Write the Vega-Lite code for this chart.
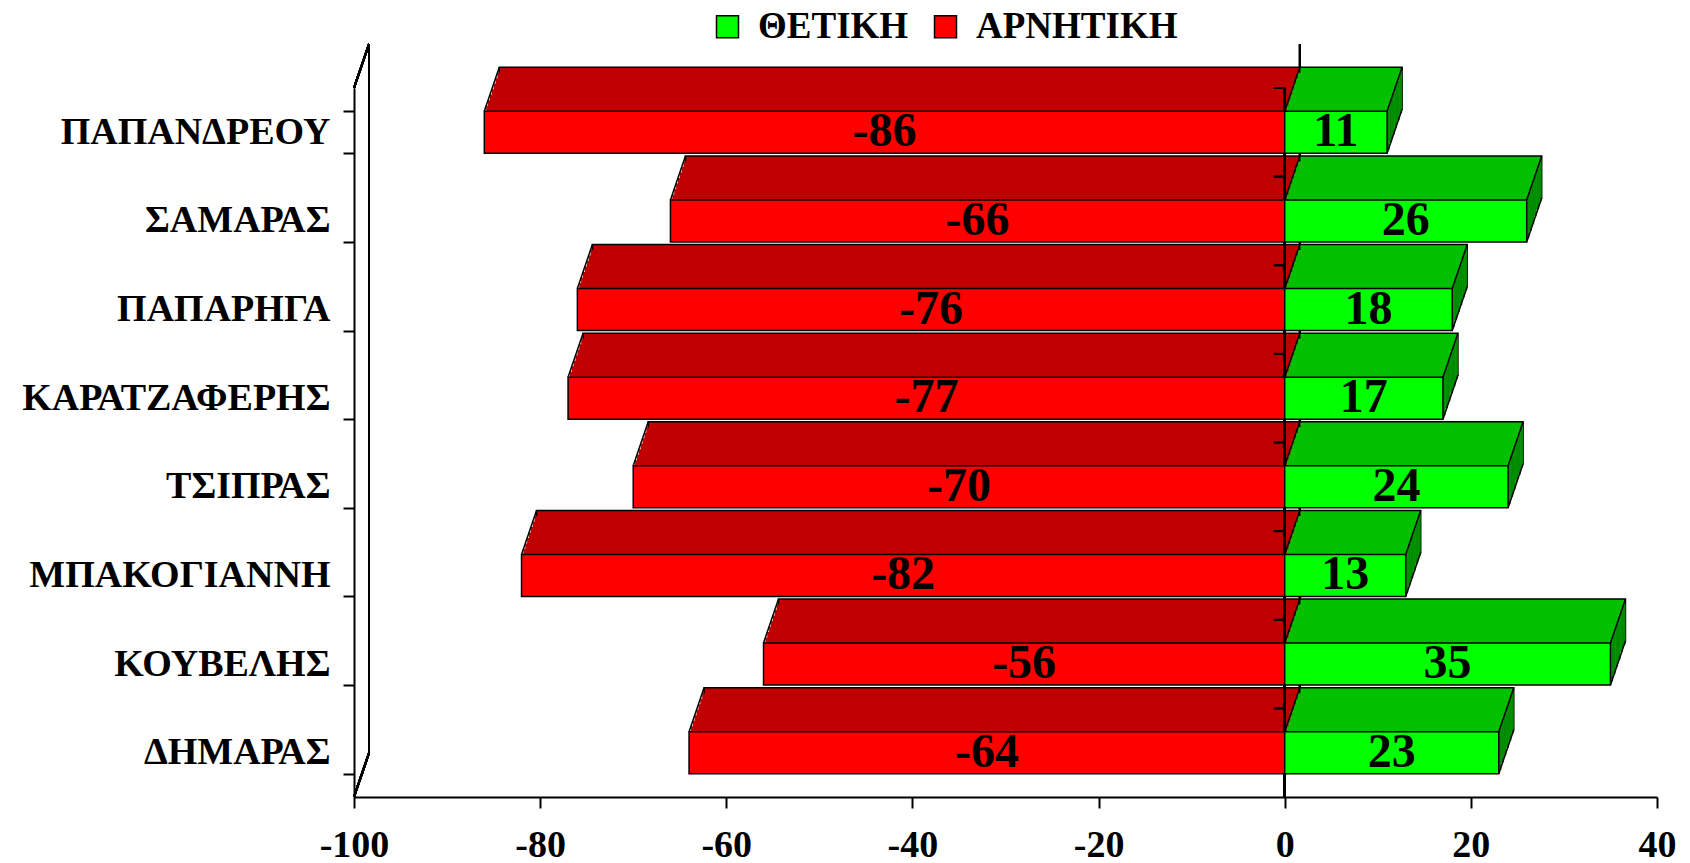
{
  "$schema": "https://vega.github.io/schema/vega-lite/v6.json",
  "width": 1303,
  "height": 709,
  "autosize": {"type": "none"},
  "padding": {"left": 354, "top": 88, "right": 33, "bottom": 66},
  "background": "white",
  "config": {
    "view": {"stroke": null},
    "font": "Liberation Serif"
  },
  "data": {
    "values": [
      {"name": "ΠΑΠΑΝΔΡΕΟΥ", "series": "ΑΡΝΗΤΙΚΗ", "value": -86},
      {"name": "ΠΑΠΑΝΔΡΕΟΥ", "series": "ΘΕΤΙΚΗ", "value": 11},
      {"name": "ΣΑΜΑΡΑΣ", "series": "ΑΡΝΗΤΙΚΗ", "value": -66},
      {"name": "ΣΑΜΑΡΑΣ", "series": "ΘΕΤΙΚΗ", "value": 26},
      {"name": "ΠΑΠΑΡΗΓΑ", "series": "ΑΡΝΗΤΙΚΗ", "value": -76},
      {"name": "ΠΑΠΑΡΗΓΑ", "series": "ΘΕΤΙΚΗ", "value": 18},
      {"name": "ΚΑΡΑΤΖΑΦΕΡΗΣ", "series": "ΑΡΝΗΤΙΚΗ", "value": -77},
      {"name": "ΚΑΡΑΤΖΑΦΕΡΗΣ", "series": "ΘΕΤΙΚΗ", "value": 17},
      {"name": "ΤΣΙΠΡΑΣ", "series": "ΑΡΝΗΤΙΚΗ", "value": -70},
      {"name": "ΤΣΙΠΡΑΣ", "series": "ΘΕΤΙΚΗ", "value": 24},
      {"name": "ΜΠΑΚΟΓΙΑΝΝΗ", "series": "ΑΡΝΗΤΙΚΗ", "value": -82},
      {"name": "ΜΠΑΚΟΓΙΑΝΝΗ", "series": "ΘΕΤΙΚΗ", "value": 13},
      {"name": "ΚΟΥΒΕΛΗΣ", "series": "ΑΡΝΗΤΙΚΗ", "value": -56},
      {"name": "ΚΟΥΒΕΛΗΣ", "series": "ΘΕΤΙΚΗ", "value": 35},
      {"name": "ΔΗΜΑΡΑΣ", "series": "ΑΡΝΗΤΙΚΗ", "value": -64},
      {"name": "ΔΗΜΑΡΑΣ", "series": "ΘΕΤΙΚΗ", "value": 23}
    ]
  },
  "resolve": {"scale": {"x": "independent", "y": "independent"}},
  "layer": [
    {
      "layer": [
        {
          "mark": {"type": "rule", "color": "black", "strokeWidth": 1.5, "xOffset": 15, "yOffset": -88.3, "y2Offset": 0.3},
          "encoding": {
            "x": {"datum": 0, "type": "quantitative", "title": null},
            "y": {"datum": "ΠΑΠΑΝΔΡΕΟΥ", "type": "nominal", "title": null},
            "y2": {"datum": "ΔΗΜΑΡΑΣ"}
          }
        },
        {
          "mark": {"type": "rule", "color": "black", "strokeWidth": 2, "xOffset": 15, "yOffset": -88.3, "y2Offset": 0.3},
          "encoding": {
            "x": {"datum": -100, "type": "quantitative", "title": null},
            "y": {"datum": "ΠΑΠΑΝΔΡΕΟΥ", "type": "nominal", "title": null},
            "y2": {"datum": "ΔΗΜΑΡΑΣ"}
          }
        },
        {
          "mark": {"type": "rule", "color": "black", "strokeWidth": 2, "x2Offset": 15, "yOffset": -44.3, "y2Offset": -88.3},
          "encoding": {
            "x": {"datum": -100, "type": "quantitative", "title": null},
            "x2": {"datum": -100},
            "y": {"datum": "ΠΑΠΑΝΔΡΕΟΥ", "type": "nominal", "title": null},
            "y2": {"datum": "ΠΑΠΑΝΔΡΕΟΥ"}
          }
        },
        {
          "mark": {"type": "rule", "color": "black", "strokeWidth": 2, "x2Offset": 15, "yOffset": 44.3, "y2Offset": 0.3},
          "encoding": {
            "x": {"datum": -100, "type": "quantitative", "title": null},
            "x2": {"datum": -100},
            "y": {"datum": "ΔΗΜΑΡΑΣ", "type": "nominal", "title": null},
            "y2": {"datum": "ΔΗΜΑΡΑΣ"}
          }
        },
        {
          "mark": {"type": "bar", "stroke": "black", "strokeWidth": 1.5, "xOffset": 15, "x2Offset": 15, "yOffset": -44, "y2Offset": -44},
          "encoding": {
            "x": {"field": "value", "type": "quantitative", "title": null},
            "x2": {"datum": 0},
            "y": {"field": "name", "type": "nominal", "title": null},
            "fill": {"condition": {"test": "datum.value > 0", "value": "#00c000"}, "value": "#c00000"}
          }
        },
        {
          "mark": {"type": "bar", "xOffset": 13.125, "x2Offset": 13.125, "yOffset": -38.5, "y2Offset": -38.5},
          "encoding": {
            "x": {"field": "value", "type": "quantitative", "title": null},
            "x2": {"datum": 0},
            "y": {"field": "name", "type": "nominal", "title": null},
            "fill": {"condition": {"test": "datum.value > 0", "value": "#00c000"}, "value": "#c00000"}
          }
        },
        {
          "mark": {"type": "bar", "xOffset": 11.25, "x2Offset": 11.25, "yOffset": -33, "y2Offset": -33},
          "encoding": {
            "x": {"field": "value", "type": "quantitative", "title": null},
            "x2": {"datum": 0},
            "y": {"field": "name", "type": "nominal", "title": null},
            "fill": {"condition": {"test": "datum.value > 0", "value": "#00c000"}, "value": "#c00000"}
          }
        },
        {
          "mark": {"type": "bar", "xOffset": 9.375, "x2Offset": 9.375, "yOffset": -27.5, "y2Offset": -27.5},
          "encoding": {
            "x": {"field": "value", "type": "quantitative", "title": null},
            "x2": {"datum": 0},
            "y": {"field": "name", "type": "nominal", "title": null},
            "fill": {"condition": {"test": "datum.value > 0", "value": "#00c000"}, "value": "#c00000"}
          }
        },
        {
          "mark": {"type": "bar", "xOffset": 7.5, "x2Offset": 7.5, "yOffset": -22, "y2Offset": -22},
          "encoding": {
            "x": {"field": "value", "type": "quantitative", "title": null},
            "x2": {"datum": 0},
            "y": {"field": "name", "type": "nominal", "title": null},
            "fill": {"condition": {"test": "datum.value > 0", "value": "#00c000"}, "value": "#c00000"}
          }
        },
        {
          "mark": {"type": "bar", "xOffset": 5.625, "x2Offset": 5.625, "yOffset": -16.5, "y2Offset": -16.5},
          "encoding": {
            "x": {"field": "value", "type": "quantitative", "title": null},
            "x2": {"datum": 0},
            "y": {"field": "name", "type": "nominal", "title": null},
            "fill": {"condition": {"test": "datum.value > 0", "value": "#00c000"}, "value": "#c00000"}
          }
        },
        {
          "mark": {"type": "bar", "xOffset": 3.75, "x2Offset": 3.75, "yOffset": -11, "y2Offset": -11},
          "encoding": {
            "x": {"field": "value", "type": "quantitative", "title": null},
            "x2": {"datum": 0},
            "y": {"field": "name", "type": "nominal", "title": null},
            "fill": {"condition": {"test": "datum.value > 0", "value": "#00c000"}, "value": "#c00000"}
          }
        },
        {
          "mark": {"type": "bar", "xOffset": 1.875, "x2Offset": 1.875, "yOffset": -5.5, "y2Offset": -5.5},
          "encoding": {
            "x": {"field": "value", "type": "quantitative", "title": null},
            "x2": {"datum": 0},
            "y": {"field": "name", "type": "nominal", "title": null},
            "fill": {"condition": {"test": "datum.value > 0", "value": "#00c000"}, "value": "#c00000"}
          }
        },
        {
          "transform": [{"filter": "datum.value > 0"}],
          "mark": {"type": "bar", "fill": "#008a00", "xOffset": 12.5, "x2Offset": 15, "yOffset": -40.33, "y2Offset": -40.33},
          "encoding": {
            "x": {"field": "value", "type": "quantitative", "title": null},
            "x2": {"field": "value"},
            "y": {"field": "name", "type": "nominal", "title": null}
          }
        },
        {
          "transform": [{"filter": "datum.value > 0"}],
          "mark": {"type": "bar", "fill": "#008a00", "xOffset": 10, "x2Offset": 12.5, "yOffset": -33, "y2Offset": -33},
          "encoding": {
            "x": {"field": "value", "type": "quantitative", "title": null},
            "x2": {"field": "value"},
            "y": {"field": "name", "type": "nominal", "title": null}
          }
        },
        {
          "transform": [{"filter": "datum.value > 0"}],
          "mark": {"type": "bar", "fill": "#008a00", "xOffset": 7.5, "x2Offset": 10, "yOffset": -25.67, "y2Offset": -25.67},
          "encoding": {
            "x": {"field": "value", "type": "quantitative", "title": null},
            "x2": {"field": "value"},
            "y": {"field": "name", "type": "nominal", "title": null}
          }
        },
        {
          "transform": [{"filter": "datum.value > 0"}],
          "mark": {"type": "bar", "fill": "#008a00", "xOffset": 5, "x2Offset": 7.5, "yOffset": -18.33, "y2Offset": -18.33},
          "encoding": {
            "x": {"field": "value", "type": "quantitative", "title": null},
            "x2": {"field": "value"},
            "y": {"field": "name", "type": "nominal", "title": null}
          }
        },
        {
          "transform": [{"filter": "datum.value > 0"}],
          "mark": {"type": "bar", "fill": "#008a00", "xOffset": 2.5, "x2Offset": 5, "yOffset": -11, "y2Offset": -11},
          "encoding": {
            "x": {"field": "value", "type": "quantitative", "title": null},
            "x2": {"field": "value"},
            "y": {"field": "name", "type": "nominal", "title": null}
          }
        },
        {
          "transform": [{"filter": "datum.value > 0"}],
          "mark": {"type": "bar", "fill": "#008a00", "xOffset": 0, "x2Offset": 2.5, "yOffset": -3.67, "y2Offset": -3.67},
          "encoding": {
            "x": {"field": "value", "type": "quantitative", "title": null},
            "x2": {"field": "value"},
            "y": {"field": "name", "type": "nominal", "title": null}
          }
        },
        {
          "transform": [{"filter": "datum.value < 0"}],
          "mark": {"type": "rule", "color": "black", "strokeWidth": 1.5, "x2Offset": 15, "yOffset": -21, "y2Offset": -65},
          "encoding": {
            "x": {"field": "value", "type": "quantitative", "title": null},
            "x2": {"field": "value"},
            "y": {"field": "name", "type": "nominal", "title": null},
            "y2": {"field": "name"}
          }
        },
        {
          "transform": [{"filter": "datum.value > 0"}],
          "mark": {"type": "rule", "color": "black", "strokeWidth": 1.5, "x2Offset": 15, "yOffset": -21, "y2Offset": -65},
          "encoding": {
            "x": {"datum": 0, "type": "quantitative", "title": null},
            "x2": {"datum": 0},
            "y": {"field": "name", "type": "nominal", "title": null},
            "y2": {"field": "name"}
          }
        },
        {
          "transform": [{"filter": "datum.value > 0"}],
          "mark": {"type": "rule", "color": "black", "strokeWidth": 1.5, "x2Offset": 15, "yOffset": -21, "y2Offset": -65},
          "encoding": {
            "x": {"field": "value", "type": "quantitative", "title": null},
            "x2": {"field": "value"},
            "y": {"field": "name", "type": "nominal", "title": null},
            "y2": {"field": "name"}
          }
        },
        {
          "transform": [{"filter": "datum.value > 0"}],
          "mark": {"type": "rule", "color": "black", "strokeWidth": 1.5, "x2Offset": 15, "yOffset": 21, "y2Offset": -23},
          "encoding": {
            "x": {"field": "value", "type": "quantitative", "title": null},
            "x2": {"field": "value"},
            "y": {"field": "name", "type": "nominal", "title": null},
            "y2": {"field": "name"}
          }
        },
        {
          "mark": {"type": "rule", "color": "black", "strokeWidth": 2},
          "encoding": {"x": {"datum": 0, "type": "quantitative", "title": null}}
        },
        {
          "mark": {"type": "rule", "color": "black", "strokeWidth": 2, "xOffset": -11, "yOffset": -23.3},
          "encoding": {
            "x": {"datum": 0, "type": "quantitative", "title": null},
            "x2": {"datum": 0},
            "y": {"field": "name", "type": "nominal", "bandPosition": 0, "title": null}
          }
        },
        {
          "mark": {"type": "bar", "stroke": "black", "strokeWidth": 1.5},
          "encoding": {
            "x": {
              "field": "value",
              "type": "quantitative",
              "title": null,
              "scale": {"domain": [-100, 40], "nice": false, "zero": false},
              "axis": {
                "values": [-100, -80, -60, -40, -20, 0, 20, 40],
                "labelExpr": "datum.value + ''",
                "grid": false,
                "domainColor": "black",
                "domainWidth": 2,
                "tickColor": "black",
                "tickWidth": 2,
                "tickSize": 11,
                "labelFont": "Liberation Serif",
                "labelFontWeight": "bold",
                "labelFontSize": 38,
                "labelColor": "black",
                "labelPadding": 18,
                "labelFlush": false,
                "labelOverlap": false
              }
            },
            "x2": {"datum": 0},
            "y": {
              "field": "name",
              "type": "nominal",
              "title": null,
              "scale": {
                "domain": ["ΠΑΠΑΝΔΡΕΟΥ", "ΣΑΜΑΡΑΣ", "ΠΑΠΑΡΗΓΑ", "ΚΑΡΑΤΖΑΦΕΡΗΣ", "ΤΣΙΠΡΑΣ", "ΜΠΑΚΟΓΙΑΝΝΗ", "ΚΟΥΒΕΛΗΣ", "ΔΗΜΑΡΑΣ"],
                "paddingInner": 0.526,
                "paddingOuter": 0.263
              },
              "axis": {
                "grid": false,
                "tickBand": "extent",
                "domainColor": "black",
                "domainWidth": 2,
                "tickColor": "black",
                "tickWidth": 2,
                "tickSize": 11,
                "labelFont": "Liberation Serif",
                "labelFontWeight": "bold",
                "labelFontSize": 38,
                "labelColor": "black",
                "labelPadding": 13,
                "labelLimit": 500
              }
            },
            "color": {
              "field": "series",
              "type": "nominal",
              "scale": {"domain": ["ΘΕΤΙΚΗ", "ΑΡΝΗΤΙΚΗ"], "range": ["#00ff00", "#ff0000"]},
              "legend": {
                "title": null,
                "orient": "none",
                "legendX": 355,
                "legendY": -80,
                "direction": "horizontal",
                "padding": 0,
                "symbolType": "square",
                "symbolSize": 484,
                "symbolStrokeColor": "black",
                "symbolStrokeWidth": 1.5,
                "symbolOpacity": 1,
                "labelFont": "Liberation Serif",
                "labelFontWeight": "bold",
                "labelFontSize": 37,
                "labelColor": "black",
                "labelOffset": 12,
                "columnPadding": 18,
                "labelLimit": 400
              }
            }
          }
        }
      ]
    },
    {
      "mark": {"type": "text", "font": "Liberation Serif", "fontWeight": "bold", "fontSize": 48, "color": "black", "baseline": "middle", "align": "center"},
      "encoding": {
        "x": {"field": "value", "type": "quantitative", "title": null, "axis": null, "scale": {"domain": [-200, 80], "nice": false, "zero": false}},
        "y": {
          "field": "name",
          "type": "nominal",
          "title": null,
          "axis": null,
          "scale": {
            "domain": ["ΠΑΠΑΝΔΡΕΟΥ", "ΣΑΜΑΡΑΣ", "ΠΑΠΑΡΗΓΑ", "ΚΑΡΑΤΖΑΦΕΡΗΣ", "ΤΣΙΠΡΑΣ", "ΜΠΑΚΟΓΙΑΝΝΗ", "ΚΟΥΒΕΛΗΣ", "ΔΗΜΑΡΑΣ"],
            "paddingInner": 0.526,
            "paddingOuter": 0.263
          }
        },
        "text": {"field": "value", "type": "nominal"}
      }
    }
  ]
}
